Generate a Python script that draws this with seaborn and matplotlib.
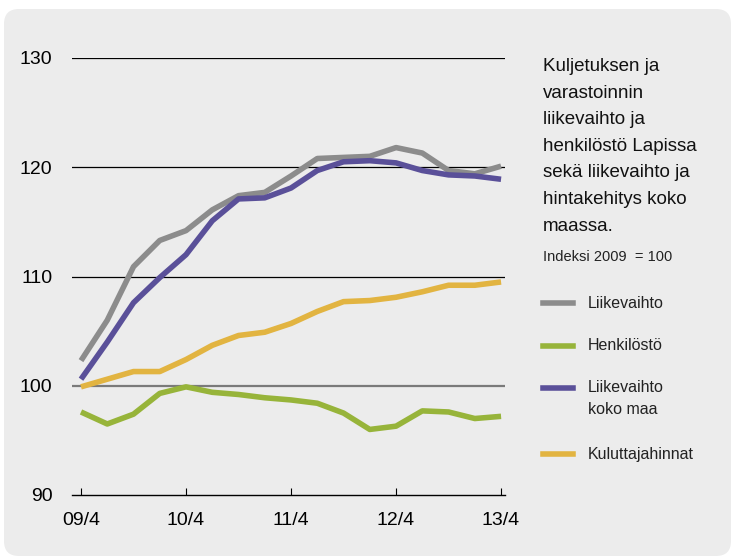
import pandas as pd
import seaborn as sns
import matplotlib.pyplot as plt
from matplotlib.patches import FancyBboxPatch
from matplotlib.lines import Line2D

quarters = ["09/4", "10/1", "10/2", "10/3", "10/4", "11/1", "11/2", "11/3", "11/4",
            "12/1", "12/2", "12/3", "12/4", "13/1", "13/2", "13/3", "13/4"]
liikevaihto = [102.3, 106.0, 110.9, 113.3, 114.2, 116.1, 117.4, 117.7, 119.2,
               120.8, 120.9, 121.0, 121.8, 121.3, 119.7, 119.4, 120.1]
henkilosto = [97.6, 96.5, 97.4, 99.3, 99.9, 99.4, 99.2, 98.9, 98.7,
              98.4, 97.5, 96.0, 96.3, 97.7, 97.6, 97.0, 97.2]
liikevaihto_maa = [100.6, 104.0, 107.6, 109.9, 112.0, 115.1, 117.1, 117.2, 118.1,
                   119.7, 120.5, 120.6, 120.4, 119.7, 119.3, 119.2, 118.9]
kuluttajahinnat = [99.9, 100.6, 101.3, 101.3, 102.4, 103.7, 104.6, 104.9, 105.7,
                   106.8, 107.7, 107.8, 108.1, 108.6, 109.2, 109.2, 109.5]

series = ["Liikevaihto", "Henkilöstö", "Liikevaihto\nkoko maa", "Kuluttajahinnat"]
colors = ["#8c8c8c", "#97b43a", "#5a5099", "#e2b441"]
year_ticks = ["09/4", "10/4", "11/4", "12/4", "13/4"]
title = "Kuljetuksen ja\nvarastoinnin\nliikevaihto ja\nhenkilöstö Lapissa\nsekä liikevaihto ja\nhintakehitys koko\nmaassa."

df = pd.DataFrame({
    "q": list(range(len(quarters))) * 4,
    "value": liikevaihto + henkilosto + liikevaihto_maa + kuluttajahinnat,
    "series": sum([[s] * len(quarters) for s in series], []),
})

plt.rcParams['font.family'] = ['Liberation Sans', 'DejaVu Sans']

fig = plt.figure(figsize=(7.34, 5.57), dpi=100)
fig.patch.set_facecolor("white")
bg = FancyBboxPatch((0.04, 0.01), 7.27, 5.47, boxstyle="round,pad=0,rounding_size=0.15",
                    transform=fig.dpi_scale_trans, facecolor="#ececec", edgecolor="none",
                    zorder=-5)
fig.patches.append(bg)

ax = fig.add_axes([72 / 734, 1 - 495 / 557, (505 - 72) / 734, (495 - 58) / 557])
ax.patch.set_alpha(0)

for v in [110, 120, 130]:
    ax.axhline(v, color="black", lw=0.9, zorder=1)
ax.axhline(100, color="#7a7a7a", lw=1.6, zorder=1)

sns.lineplot(data=df, x="q", y="value", hue="series", palette=colors,
             hue_order=series, lw=4, legend=False, ax=ax, zorder=3,
             solid_capstyle="butt")

ax.set_xlim(-0.343, 16.15)
ax.set_ylim(90, 130)
for s in ["top", "right", "left"]:
    ax.spines[s].set_visible(False)
ax.spines["bottom"].set_color("black")
ax.spines["bottom"].set_linewidth(1)

ax.set_xticks([quarters.index(t) for t in year_ticks])
ax.set_xticklabels(year_ticks, fontsize=14)
ax.tick_params(axis="x", direction="in", length=5, width=0.8, pad=12)
ax.set_yticks([90, 100, 110, 120, 130])
ax.tick_params(axis="y", length=0, pad=14, labelsize=14)
ax.set_xlabel("")
ax.set_ylabel("")

fig.text(543 / 734, 1 - 58 / 557, title, fontsize=13.5, va="top", ha="left",
         linespacing=1.74, color="#111111")
fig.text(543 / 734, 1 - 257 / 557, "Indeksi 2009  = 100", fontsize=10.5, va="center",
         ha="left", color="#222222")

leg_y = [303, 346, 388, 454]
for lab, col, y in zip(series, colors, leg_y):
    fy = 1 - y / 557
    fig.add_artist(Line2D([543 / 734, 573 / 734], [fy, fy], color=col, lw=4,
                          transform=fig.transFigure))
    fig.text(588 / 734, fy, lab.split("\n")[0], fontsize=11.5, va="center", ha="left",
             color="#222222")
    if "\n" in lab:
        fig.text(588 / 734, fy - 22 / 557, lab.split("\n")[1], fontsize=11.5,
                 va="center", ha="left", color="#222222")

fig.savefig("out.png", dpi=100)
